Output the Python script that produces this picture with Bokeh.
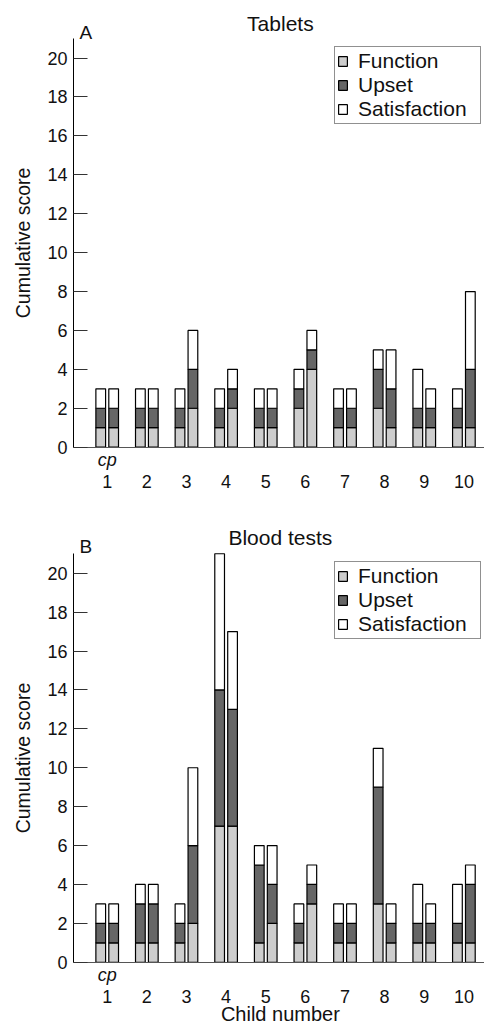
import math
from bokeh.plotting import figure
from bokeh.layouts import column
from bokeh.models import ColumnDataSource, FixedTicker, Label, Range1d, Legend
from bokeh.transform import dodge
from bokeh.embed import file_html
from bokeh.resources import INLINE

# ---------------- data ----------------
children = [1, 2, 3, 4, 5, 6, 7, 8, 9, 10]
y_ticks = [0, 2, 4, 6, 8, 10, 12, 14, 16, 18, 20]
components = ["Function", "Upset", "Satisfaction"]

# Tablets (panel A): child (c) and parent (p) bars
tab_c_function     = [1, 1, 1, 1, 1, 2, 1, 2, 1, 1]
tab_c_upset        = [1, 1, 1, 1, 1, 1, 1, 2, 1, 1]
tab_c_satisfaction = [1, 1, 1, 1, 1, 1, 1, 1, 2, 1]
tab_p_function     = [1, 1, 2, 2, 1, 4, 1, 1, 1, 1]
tab_p_upset        = [1, 1, 2, 1, 1, 1, 1, 2, 1, 3]
tab_p_satisfaction = [1, 1, 2, 1, 1, 1, 1, 2, 1, 4]

# Blood tests (panel B)
blood_c_function     = [1, 1, 1, 7, 1, 1, 1, 3, 1, 1]
blood_c_upset        = [1, 2, 1, 7, 4, 1, 1, 6, 1, 1]
blood_c_satisfaction = [1, 1, 1, 7, 1, 1, 1, 2, 2, 2]
blood_p_function     = [1, 1, 2, 7, 2, 3, 1, 1, 1, 1]
blood_p_upset        = [1, 2, 4, 6, 2, 1, 1, 1, 1, 3]
blood_p_satisfaction = [1, 1, 4, 4, 2, 1, 1, 1, 1, 1]

FONT = "Liberation Sans"
COLORS = ["#cdcdcd", "#666666", "#ffffff"]
TXT = "#111111"
X_AXIS_START = 0.15
X_END = 10.52
Y_TOP = 21


def make_panel(title, letter, c_vals, p_vals, height, y_lo, y_hi, title_off,
               letter_off, legend_y, xlabel=None):
    p = figure(width=484, height=height, output_backend="svg", toolbar_location=None,
               x_range=Range1d(-1.692, X_END), y_range=Range1d(y_lo, y_hi),
               min_border_left=0, min_border_right=0,
               min_border_top=0, min_border_bottom=0)
    p.outline_line_color = None
    p.xgrid.grid_line_color = None
    p.ygrid.grid_line_color = None

    src_c = ColumnDataSource(dict(child=children, Function=c_vals[0],
                                  Upset=c_vals[1], Satisfaction=c_vals[2]))
    src_p = ColumnDataSource(dict(child=children, Function=p_vals[0],
                                  Upset=p_vals[1], Satisfaction=p_vals[2]))
    rc = p.vbar_stack(components, x=dodge("child", -0.163, range=p.x_range), width=0.245,
                      color=COLORS, line_color="#000000", line_width=1.2, source=src_c)
    p.vbar_stack(components, x=dodge("child", 0.163, range=p.x_range), width=0.245,
                 color=COLORS, line_color="#000000", line_width=1.2, source=src_p)

    legend = Legend(items=[(name, [r]) for name, r in zip(components, rc)],
                    location=(334, legend_y),
                    label_text_font=FONT, label_text_font_size="21px",
                    label_text_color=TXT,
                    glyph_width=11, glyph_height=12, label_height=21,
                    label_width=120, label_standoff=10, spacing=0, padding=2,
                    border_line_color="#222222", border_line_width=1,
                    background_fill_alpha=1.0)
    p.add_layout(legend)

    # y axis, fixed at the start of the bar area
    p.yaxis.fixed_location = X_AXIS_START
    p.yaxis.bounds = (0, Y_TOP)
    p.yaxis.ticker = FixedTicker(ticks=y_ticks)
    p.yaxis.major_tick_in = 14
    p.yaxis.major_tick_out = 0
    p.yaxis.minor_tick_line_color = None
    p.yaxis.major_tick_line_color = "#333333"
    p.yaxis.axis_line_color = "#000000"
    p.yaxis.major_label_text_font = FONT
    p.yaxis.major_label_text_font_size = "18px"
    p.yaxis.major_label_text_color = TXT
    p.yaxis.major_label_standoff = 6

    # x axis, fixed at y = 0
    p.xaxis.fixed_location = 0
    p.xaxis.bounds = (X_AXIS_START, X_END)
    p.xaxis.ticker = FixedTicker(ticks=children)
    p.xaxis.major_tick_line_color = None
    p.xaxis.minor_tick_line_color = None
    p.xaxis.axis_line_color = "#555555"
    p.xaxis.major_label_text_font = FONT
    p.xaxis.major_label_text_font_size = "18px"
    p.xaxis.major_label_text_color = TXT
    p.xaxis.major_label_standoff = 22

    p.add_layout(Label(x=-1.112, y=10.5, angle=math.pi / 2, text="Cumulative score",
                       text_align="center", text_baseline="middle", text_font=FONT,
                       text_font_size="19.5px", text_color=TXT))
    p.add_layout(Label(x=5.37, y=Y_TOP, y_offset=title_off, text=title, text_align="center",
                       text_baseline="middle", text_font=FONT, text_font_size="21px",
                       text_color=TXT))
    p.add_layout(Label(x=0.46, y=Y_TOP, y_offset=letter_off, text=letter, text_align="center",
                       text_baseline="middle", text_font=FONT, text_font_size="19px",
                       text_color=TXT))
    p.add_layout(Label(x=1, y=0, y_offset=-13, text="cp", text_align="center",
                       text_baseline="middle", text_font=FONT, text_font_size="18px",
                       text_font_style="italic", text_color=TXT))
    if xlabel:
        p.add_layout(Label(x=5.37, y=0, y_offset=-52, text=xlabel, text_align="center",
                           text_baseline="middle", text_font=FONT, text_font_size="20px",
                           text_color=TXT))
    return p


pa = make_panel("Tablets", "A",
                [tab_c_function, tab_c_upset, tab_c_satisfaction],
                [tab_p_function, tab_p_upset, tab_p_satisfaction],
                height=520, y_lo=-3.77, y_hi=22.96, title_off=15, letter_off=6.5,
                legend_y=396)
pb = make_panel("Blood tests", "B",
                [blood_c_function, blood_c_upset, blood_c_satisfaction],
                [blood_p_function, blood_p_upset, blood_p_satisfaction],
                height=505, y_lo=-3.25, y_hi=22.71, title_off=16, letter_off=7,
                legend_y=386, xlabel="Child number")

layout = column(pa, pb, spacing=0)
open("out.html", "w").write(file_html(layout, INLINE))
